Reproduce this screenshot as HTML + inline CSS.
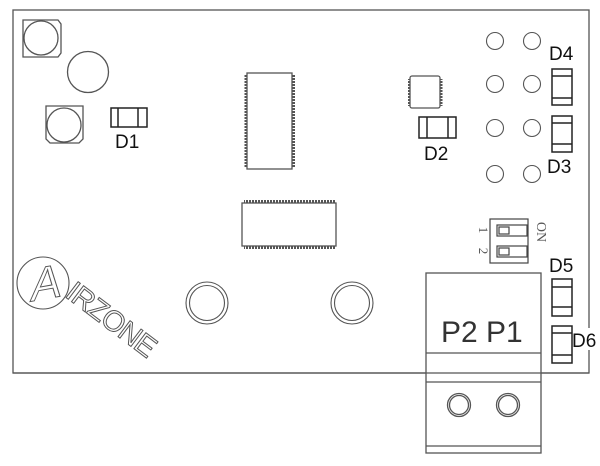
<!DOCTYPE html>
<html><head><style>html,body{margin:0;padding:0;background:#fff}svg{display:block}</style></head>
<body>
<svg width="600" height="466" viewBox="0 0 600 466" xmlns="http://www.w3.org/2000/svg" font-family="Liberation Sans, sans-serif">
<defs>
<pattern id="pv" width="3" height="3" patternUnits="userSpaceOnUse"><rect width="3" height="2" fill="#555"/></pattern>
<pattern id="ph" width="3" height="3" patternUnits="userSpaceOnUse"><rect width="2" height="3" fill="#555"/></pattern>
</defs>
<g fill="none" stroke="#555" stroke-width="1.3">
<rect x="13" y="10" width="576" height="363"/>
<path d="M23,20 H58 L61,24 V53 L58,57 H23 Z"/>
<circle cx="41" cy="38" r="17"/>
<circle cx="88" cy="72" r="20.5"/>
<path d="M46,106 H83 V139 L79,143 H50 L46,139 Z"/>
<circle cx="64" cy="125" r="17"/>
</g>
<g fill="none" stroke="#222" stroke-width="1.5">
<rect x="111" y="108" width="36" height="19"/><line x1="118" y1="108" x2="118" y2="127"/><line x1="138" y1="108" x2="138" y2="127"/>
<rect x="419" y="117" width="37" height="21"/><line x1="427" y1="117" x2="427" y2="138"/><line x1="448" y1="117" x2="448" y2="138"/>
<rect x="552" y="69" width="20" height="36"/><line x1="552" y1="76" x2="572" y2="76"/><line x1="552" y1="98" x2="572" y2="98"/>
<rect x="552" y="116" width="20" height="36"/><line x1="552" y1="123" x2="572" y2="123"/><line x1="552" y1="144" x2="572" y2="144"/>
<rect x="552" y="279" width="20" height="37"/><line x1="552" y1="287" x2="572" y2="287"/><line x1="552" y1="307" x2="572" y2="307"/>
<rect x="552" y="326" width="20" height="37"/><line x1="552" y1="333" x2="572" y2="333"/><line x1="552" y1="355" x2="572" y2="355"/>
</g>
<rect x="244.5" y="75" width="3" height="93" fill="url(#pv)"/>
<rect x="292" y="75" width="3" height="93" fill="url(#pv)"/>
<rect x="247" y="73" width="45" height="96" fill="#fff" stroke="#555" stroke-width="1.3"/>
<rect x="244" y="200" width="92" height="3" fill="url(#ph)"/>
<rect x="244" y="246" width="92" height="3" fill="url(#ph)"/>
<rect x="242" y="203" width="94" height="43" fill="#fff" stroke="#555" stroke-width="1.3"/>
<rect x="408" y="79" width="2.5" height="27" fill="url(#pv)"/>
<rect x="440" y="79" width="2.5" height="27" fill="url(#pv)"/>
<rect x="410" y="76" width="30" height="32" rx="2" fill="#fff" stroke="#555" stroke-width="1.3"/>
<g fill="none" stroke="#555" stroke-width="1.1">
<circle cx="495" cy="41" r="8.5"/><circle cx="532" cy="41" r="8.5"/>
<circle cx="495" cy="84" r="8.5"/><circle cx="532" cy="84" r="8.5"/>
<circle cx="495" cy="128" r="8.5"/><circle cx="532" cy="128" r="8.5"/>
<circle cx="495" cy="174" r="8.5"/><circle cx="532" cy="174" r="8.5"/>
<circle cx="207" cy="303" r="21"/><circle cx="207" cy="303" r="17.5"/>
<circle cx="352" cy="303" r="21"/><circle cx="352" cy="303" r="17.5"/>
<circle cx="43" cy="283" r="26"/>
</g>
<g fill="none" stroke="#444" stroke-width="1.2">
<rect x="490" y="219" width="38" height="44"/>
<rect x="497" y="225" width="30" height="11"/><rect x="499" y="227" width="10" height="7"/>
<rect x="497" y="246" width="30" height="11"/><rect x="499" y="248" width="10" height="7"/>
</g>
<text transform="translate(479,230) rotate(90)" font-size="13" fill="#555" font-family="Liberation Serif, serif" text-anchor="middle">1</text>
<text transform="translate(479,251) rotate(90)" font-size="13" fill="#555" font-family="Liberation Serif, serif" text-anchor="middle">2</text>
<text transform="translate(537,232) rotate(90)" font-size="14" fill="#555" font-family="Liberation Serif, serif" text-anchor="middle">ON</text>
<text x="0" y="0" font-size="46" fill="none" stroke="#555" stroke-width="1" text-anchor="middle" transform="translate(45,299) rotate(-10) skewX(-15)">A</text>
<text transform="translate(64,296) rotate(37)" font-size="29" fill="none" stroke="#555" stroke-width="1" letter-spacing="-1">IRZONE</text>
<rect x="426" y="273" width="115" height="180" fill="#fff" stroke="#555" stroke-width="1.3"/>
<g stroke="#555" stroke-width="1.3" fill="none">
<line x1="426" y1="353" x2="541" y2="353"/>
<line x1="13" y1="373" x2="589" y2="373"/>
<line x1="426" y1="382" x2="541" y2="382"/>
<line x1="426" y1="446" x2="541" y2="446"/>
<circle cx="459" cy="405" r="11.5"/><circle cx="459" cy="405" r="9.5"/>
<circle cx="508" cy="405" r="11.5"/><circle cx="508" cy="405" r="9.5"/>
</g>
<text x="441" y="342" font-size="30" fill="#333">P2 P1</text>
<g font-size="19" fill="#111">
<text x="115" y="148">D1</text>
<text x="424" y="160">D2</text>
<text x="549" y="60">D4</text>
<text x="547" y="173">D3</text>
<text x="549" y="272">D5</text>
<rect x="573" y="328" width="26" height="22" fill="#fff"/>
<text x="572" y="347">D6</text>
</g>
</svg>
</body></html>
